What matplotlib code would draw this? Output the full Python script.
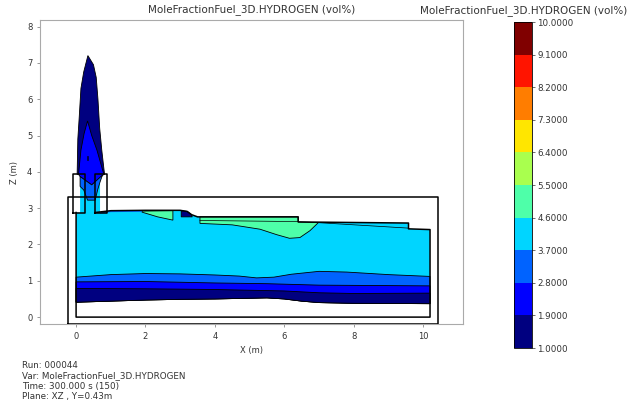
import numpy as np
import matplotlib
matplotlib.use("Agg")
import matplotlib.pyplot as plt
from matplotlib.colors import BoundaryNorm
from matplotlib.cm import ScalarMappable

# ---------------- data ----------------
levels = [1.0, 1.9, 2.8, 3.7, 4.6, 5.5, 6.4, 7.3, 8.2, 9.1, 10.0]
title = "MoleFractionFuel_3D.HYDROGEN (vol%)"
footer = ["Run: 000044", "Var: MoleFractionFuel_3D.HYDROGEN",
          "Time: 300.000 s (150)", "Plane: XZ , Y=0.43m"]
xticks = [0, 2, 4, 6, 8, 10]
yticks = [0, 1, 2, 3, 4, 5, 6, 7, 8]

# contour band boundaries in the room (x in m, z in m)
navy_bottom_x = [0, 1, 2, 3, 4, 5, 5.5, 6, 6.5, 7, 8, 10.2]
navy_bottom_z = [0.41, 0.44, 0.47, 0.49, 0.50, 0.52, 0.53, 0.50, 0.44, 0.40, 0.38, 0.37]
navy_top_x = [0, 2, 4, 5, 6, 7, 8, 10.2]
navy_top_z = [0.79, 0.78, 0.76, 0.74, 0.72, 0.67, 0.65, 0.66]
blue_top_x = [0, 2, 4, 5.5, 7, 10.2]
blue_top_z = [0.97, 0.98, 0.94, 0.92, 0.88, 0.86]
med_top_x = [0, 1, 2, 3, 4, 4.7, 5.2, 5.7, 6.2, 7, 7.8, 9, 10.2]
med_top_z = [1.10, 1.17, 1.20, 1.19, 1.16, 1.13, 1.08, 1.10, 1.18, 1.26, 1.24, 1.17, 1.12]

# ceiling of the fluid domain (incl. stack interior)
ceil_x = [0, 0.115, 0.115, 0.69, 0.69, 1.0, 2.0, 3.0, 3.2, 3.33, 3.5, 6.4, 6.4, 9.58, 9.58, 10.2]
ceil_z = [2.88, 2.88, 3.93, 3.93, 2.88, 2.93, 2.94, 2.94, 2.91, 2.82, 2.76, 2.76, 2.62, 2.59, 2.43, 2.41]

# plume and stack contours
plume_navy_x = [0.03, 0.05, 0.09, 0.14, 0.22, 0.34, 0.50, 0.58, 0.63, 0.68, 0.74, 0.82]
plume_navy_z = [3.93, 4.90, 5.50, 6.30, 6.75, 7.20, 6.95, 6.60, 6.00, 5.20, 4.60, 3.93]
plume_blue_x = [0.07, 0.14, 0.23, 0.33, 0.45, 0.60, 0.80, 0.45, 0.115]
plume_blue_z = [3.93, 4.60, 5.05, 5.40, 5.00, 4.60, 3.93, 3.64, 3.87]
stack_med_x = [0.115, 0.45, 0.76, 0.69, 0.62, 0.55, 0.33, 0.22, 0.115]
stack_med_z = [3.87, 3.64, 3.91, 3.72, 3.50, 3.22, 3.22, 3.50, 3.60]
island_x = [0.32, 0.345, 0.345, 0.32]
island_z = [4.33, 4.33, 4.43, 4.43]

# green (4.6-5.5) pockets under the ceiling
green1_x = [1.90, 2.79, 2.79, 2.35, 1.90]
green1_z = [2.92, 2.93, 2.67, 2.76, 2.89]
green2_x = [3.57, 6.40, 6.40, 6.98, 6.74, 6.45, 6.15, 5.78, 5.30, 4.50, 3.57]
green2_z = [2.76, 2.76, 2.62, 2.60, 2.38, 2.19, 2.17, 2.27, 2.42, 2.54, 2.58]
# small low-concentration pocket at the first ceiling step
navyblob_x = [3.03, 3.20, 3.30, 3.35, 3.03]
navyblob_z = [2.93, 2.91, 2.84, 2.76, 2.76]
# thin strip of 2.8-3.7 along the first ceiling
medstrip_x = [0.69, 1.0, 1.9, 1.9, 1.0, 0.69]
medstrip_z = [2.88, 2.93, 2.94, 2.90, 2.89, 2.85]

# geometry outlines
inner_x = [0.55, 1.0, 2.0, 3.0, 3.2, 3.33, 3.5, 6.4, 6.4, 9.58, 9.58, 10.2, 10.2, 0, 0]
inner_z = [2.88, 2.93, 2.94, 2.94, 2.91, 2.82, 2.76, 2.76, 2.62, 2.59, 2.43, 2.41, 0, 0, 2.88]
inner_line1_x = [3.57, 6.40]
inner_line1_z = [2.66, 2.63]
inner_line2_x = [6.98, 9.58]
inner_line2_z = [2.60, 2.45]
box_left = [-0.10, 2.88, 0.26, 3.93]    # x0, z0, x1, z1
box_right = [0.55, 2.88, 0.88, 3.93]
box_outer = [-0.22, -0.19, 10.42, 3.31]

# band value used to pick the colour of each region
v_navy, v_blue, v_med, v_cyan, v_green = 1.45, 2.35, 3.25, 4.15, 5.05

# ---------------- drawing ----------------
cmap = matplotlib.colormaps["jet"].resampled(len(levels) - 1)
norm = BoundaryNorm(levels, cmap.N)
col = lambda v: cmap(norm(v))

fig = plt.figure(figsize=(6.38, 4.09), dpi=100)
ax = fig.add_axes([0.0627, 0.2078, 0.6630, 0.7433])

lw_c = 0.6
lw_g = 1.1

# main cyan body (no edge)
cx = list(ceil_x) + [10.2] + list(navy_bottom_x[::-1]) + [0]
cz = list(ceil_z) + [navy_bottom_z[-1]] + list(navy_bottom_z[::-1]) + [2.88]
ax.fill(cx, cz, color=col(v_cyan), lw=0, zorder=1)

# plume
ax.fill(plume_navy_x, plume_navy_z, facecolor=col(v_navy), edgecolor="black", lw=lw_c, zorder=2)
ax.fill(plume_blue_x, plume_blue_z, facecolor=col(v_blue), edgecolor="black", lw=lw_c, zorder=3)
ax.fill(stack_med_x, stack_med_z, facecolor=col(v_med), edgecolor="black", lw=lw_c, zorder=4)
ax.fill(island_x, island_z, facecolor=col(v_navy), edgecolor="black", lw=0.4, zorder=4)

# bands near the floor
def band(top_x, top_z, v, z):
    px = list(top_x) + list(navy_bottom_x[::-1])
    pz = list(top_z) + list(navy_bottom_z[::-1])
    ax.fill(px, pz, facecolor=col(v), edgecolor="black", lw=lw_c, zorder=z)

band(med_top_x, med_top_z, v_med, 5)
band(blue_top_x, blue_top_z, v_blue, 6)
band(navy_top_x, navy_top_z, v_navy, 7)

# pockets under ceiling
ax.fill(green1_x, green1_z, facecolor=col(v_green), edgecolor="black", lw=lw_c, zorder=8)
ax.fill(green2_x, green2_z, facecolor=col(v_green), edgecolor="black", lw=lw_c, zorder=8)
ax.fill(navyblob_x, navyblob_z, facecolor=col(v_navy), edgecolor="black", lw=lw_c, zorder=8)
ax.fill(medstrip_x, medstrip_z, facecolor=col(v_med), edgecolor="none", lw=0, zorder=8)
ax.plot(inner_line1_x, inner_line1_z, color="black", lw=0.5, zorder=9)
ax.plot(inner_line2_x, inner_line2_z, color="black", lw=0.5, zorder=9)

# geometry
ax.plot(inner_x, inner_z, color="black", lw=lw_g, zorder=10)
for b in (box_left, box_right, box_outer):
    x0, z0, x1, z1 = b
    ax.plot([x0, x1, x1, x0, x0], [z0, z0, z1, z1, z0], color="black", lw=lw_g, zorder=10)

ax.set_xlim(-1.04, 11.15)
ax.set_ylim(-0.19, 8.18)
ax.set_xticks(xticks)
ax.set_yticks(yticks)
ax.tick_params(labelsize=6, colors="#333333", length=2.5, width=0.6, pad=3)
ax.tick_params(color="#888888")
for s in ax.spines.values():
    s.set_color("#aaaaaa")
    s.set_linewidth(0.8)
ax.set_xlabel("X (m)", fontsize=6, color="#333333", labelpad=4)
ax.set_ylabel("Z (m)", fontsize=6, color="#333333", labelpad=6)
ax.set_title(title, fontsize=7.5, color="#333333", pad=6)

# colourbar
cax = fig.add_axes([0.8056, 0.149, 0.0282, 0.797])
cb = fig.colorbar(ScalarMappable(norm=norm, cmap=cmap), cax=cax,
                  ticks=levels, format="%.4f", spacing="uniform")
cb.ax.tick_params(labelsize=6.3, colors="#333333", length=2, width=0.5, pad=2)
cb.outline.set_linewidth(0.6)
fig.text(0.82, 0.975, title, fontsize=7.5, color="#333333", ha="center", va="center")

# footer
for txt, yp in zip(footer, [365, 376, 386, 397]):
    fig.text(22 / 638, 1 - yp / 409, txt, fontsize=6.3, color="#333333", ha="left", va="center")

fig.savefig("out.png", dpi=100)
